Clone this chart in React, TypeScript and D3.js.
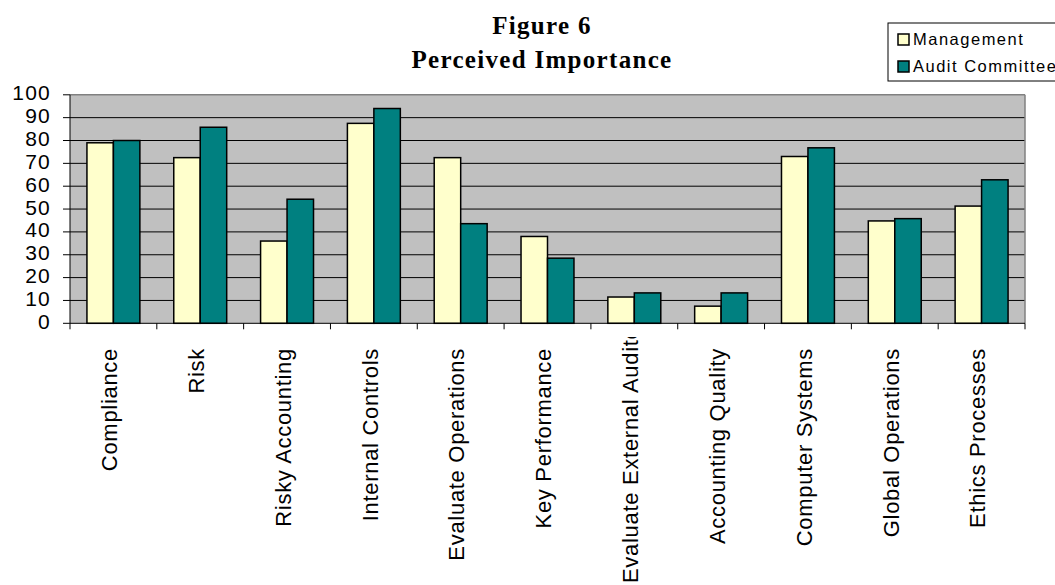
import React from 'react';
import * as d3 from 'd3';

const categories = [
  'Compliance',
  'Risk',
  'Risky Accounting',
  'Internal Controls',
  'Evaluate Operations',
  'Key Performance',
  'Evaluate External Auditor',
  'Accounting Quality',
  'Computer Systems',
  'Global Operations',
  'Ethics Processes',
];
const seriesNames = ['Management', 'Audit Committee'];
const management = [79, 72.5, 36, 87.5, 72.5, 38, 11.5, 7.5, 73, 44.8, 51.3];
const auditCommittee = [80, 85.8, 54.3, 94, 43.6, 28.5, 13.3, 13.3, 76.8, 45.8, 62.8];
const yTicks = [0, 10, 20, 30, 40, 50, 60, 70, 80, 90, 100];
const seriesColors = ['#FFFFCC', '#008080'];

const W = 1055;
const H = 585;
const plot = { left: 70, right: 1025, top: 94.8, bottom: 323.3 };
const sans = '"Liberation Sans", Arial, sans-serif';
const serif = '"Liberation Serif", "Times New Roman", serif';

const App: React.FC = () => {
  const x0 = d3.scaleBand<string>().domain(categories).range([plot.left, plot.right]).padding(0);
  const x1 = d3
    .scaleBand<string>()
    .domain(seriesNames)
    .range([0, x0.bandwidth()])
    .paddingInner(0)
    .paddingOuter(0.64);
  const y = d3.scaleLinear().domain([0, 100]).range([plot.bottom, plot.top]);
  const values = [management, auditCommittee];

  // category boundary ticks, both ends included
  const bounds = categories.map((c) => x0(c)!).concat([plot.right]);

  return (
    <svg width={W} height={H} style={{ position: 'absolute', left: 0, top: 0 }}>
      <defs>
        <clipPath id="labelClip">
          <rect x={0} y={337} width={W} height={H - 337} />
        </clipPath>
      </defs>
      <rect width={W} height={H} fill="#fff" />

      {/* title */}
      <text x={542} y={34} textAnchor="middle" fontFamily={serif} fontWeight="bold" fontSize={25} letterSpacing={1.3}>
        Figure 6
      </text>
      <text x={542} y={68} textAnchor="middle" fontFamily={serif} fontWeight="bold" fontSize={25} letterSpacing={1.3}>
        Perceived Importance
      </text>

      {/* plot area */}
      <rect x={plot.left} y={plot.top} width={plot.right - plot.left} height={plot.bottom - plot.top} fill="#C0C0C0" />
      {yTicks.slice(1, -1).map((t) => (
        <line key={t} x1={plot.left} x2={plot.right} y1={y(t)} y2={y(t)} stroke="#000" strokeWidth={1} />
      ))}
      <line x1={plot.left} x2={plot.right} y1={plot.top} y2={plot.top} stroke="#808080" strokeWidth={1.5} />
      <line x1={plot.right} x2={plot.right} y1={plot.top} y2={plot.bottom} stroke="#808080" strokeWidth={1.5} />

      {/* bars */}
      {categories.map((c, i) => (
        <g key={c} transform={`translate(${x0(c)},0)`}>
          {seriesNames.map((s, k) => (
            <rect
              key={s}
              x={x1(s)}
              y={y(values[k][i])}
              width={x1.bandwidth()}
              height={y(0) - y(values[k][i])}
              fill={seriesColors[k]}
              stroke="#000"
              strokeWidth={1.5}
            />
          ))}
        </g>
      ))}

      {/* axes */}
      <line x1={plot.left} x2={plot.left} y1={plot.top} y2={plot.bottom} stroke="#000" strokeWidth={1} />
      <line x1={plot.left} x2={plot.right} y1={plot.bottom} y2={plot.bottom} stroke="#000" strokeWidth={1} />
      {yTicks.map((t) => (
        <g key={t}>
          <line x1={plot.left - 7} x2={plot.left} y1={y(t)} y2={y(t)} stroke="#000" />
          <text x={51} y={y(t) + 5.5} textAnchor="end" fontFamily={sans} fontSize={21} letterSpacing={1.2}>
            {t}
          </text>
        </g>
      ))}
      {bounds.map((b, i) => (
        <line key={i} x1={b} x2={b} y1={plot.bottom} y2={plot.bottom + 6} stroke="#000" />
      ))}
      {categories.map((c) => {
        const cx = x0(c)! + x0.bandwidth() / 2;
        const long = c === 'Evaluate External Auditor';
        return (
          <g key={c} clipPath="url(#labelClip)">
            <text
              transform={`translate(${cx},${long ? 583 : 348}) rotate(-90)`}
              dy="0.17em"
              textAnchor={long ? 'start' : 'end'}
              fontFamily={sans}
              fontSize={22}
              letterSpacing={0.7}
            >
              {c}
            </text>
          </g>
        );
      })}

      {/* legend */}
      <rect x={888} y={23} width={200} height={58} fill="#fff" stroke="#000" strokeWidth={1} />
      {seriesNames.map((s, k) => (
        <g key={s}>
          <rect x={898} y={34 + k * 27} width={11} height={11} fill={seriesColors[k]} stroke="#000" strokeWidth={1.5} />
          <text x={913} y={44.5 + k * 27} fontFamily={sans} fontSize={16.5} letterSpacing={1.5}>
            {s}
          </text>
        </g>
      ))}
    </svg>
  );
};

export default App;
